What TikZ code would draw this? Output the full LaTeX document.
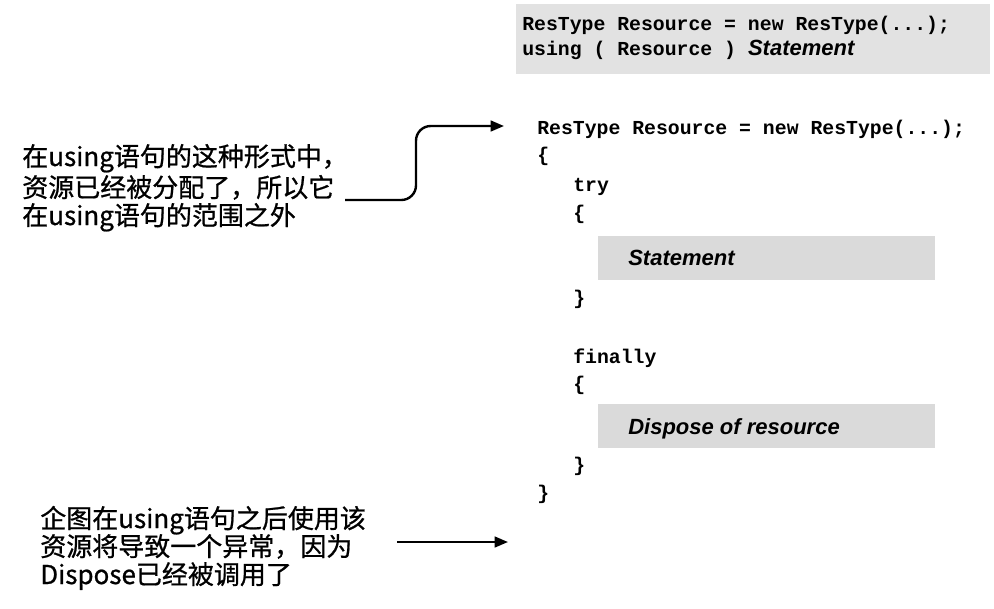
\documentclass[tikz,border=0pt]{standalone}
\usepackage{fontspec}
\newfontfamily\cjk{Noto Sans CJK SC}[FakeBold=0.8]
\newfontfamily\codefam{Liberation Mono}
\newfontfamily\lsans{Liberation Sans}
\usetikzlibrary{arrows.meta}
\newcommand\codefont{\codefam\bfseries\fontsize{14.85}{16}\selectfont}
\newcommand\notefont{\cjk\fontsize{19.5}{21}\selectfont}
\newcommand\boxfont{\lsans\bfseries\itshape\fontsize{16.5}{18}\selectfont}
\definecolor{boxgray}{HTML}{DADADA}
\definecolor{topgray}{HTML}{E2E2E2}
\begin{document}
\begin{tikzpicture}[x=0.75pt,y=-0.75pt,
  codeline/.style={anchor=base west, inner sep=0pt, font=\codefont},
  noteline/.style={anchor=base west, inner sep=0pt, font=\notefont},
  boxtext/.style={anchor=base west, inner sep=0pt, font=\boxfont},
  graybox/.style={anchor=north west, fill=boxgray, draw=none, inner sep=0pt,
    minimum width=252.75pt, minimum height=33pt},
  topbox/.style={anchor=north west, fill=topgray, draw=none, inner sep=0pt,
    minimum width=355.5pt, minimum height=52.5pt},
  arr/.style={line width=1.8pt, -{Triangle[length=10pt,width=8pt]}}]
\useasboundingbox (0,0) rectangle (994,608);
% top box
\node[topbox] (top) at (516,4) {};
\node[codeline] (t1) at (522,30) {ResType Resource = new ResType(...);};
\node[codeline] (t2) at (522,55) {using ( Resource ) \boxfont Statement};
% code
\node[codeline] (c1) at (537,134) {ResType Resource = new ResType(...);};
\node[codeline] (c2) at (537,161) {\{};
\node[codeline] (c3) at (573,191) {try};
\node[codeline] (c4) at (573,219) {\{};
\node[graybox] (b1) at (598,236) {};
\node[boxtext] (b1t) at (628,265) {Statement};
\node[codeline] (c5) at (573,304) {\}};
\node[codeline] (c6) at (573,363) {finally};
\node[codeline] (c7) at (573,390) {\{};
\node[graybox] (b2) at (598,404) {};
\node[boxtext] (b2t) at (628,434) {Dispose of resource};
\node[codeline] (c8) at (573,471) {\}};
\node[codeline] (c9) at (537,499) {\}};
% notes
\node[noteline] (n1) at (22,166) {在using语句的这种形式中，};
\node[noteline] (n2) at (22,197) {资源已经被分配了，所以它};
\node[noteline] (n3) at (22,225) {在using语句的范围之外};
\node[noteline] (m1) at (40,528) {企图在using语句之后使用该};
\node[noteline] (m2) at (40,556) {资源将导致一个异常，因为};
\node[noteline] (m3) at (40,584) {Dispose已经被调用了};
% arrows
\coordinate (a1s) at (345,200);
\coordinate (a1m) at (416,160);
\coordinate (a1e) at (504,126);
\draw[arr, rounded corners=11pt] (a1s) -| (a1m) |- (a1e);
\coordinate (a2s) at (397,542);
\coordinate (a2e) at (508,542);
\draw[arr] (a2s) -- (a2e);
\end{tikzpicture}
\end{document}
